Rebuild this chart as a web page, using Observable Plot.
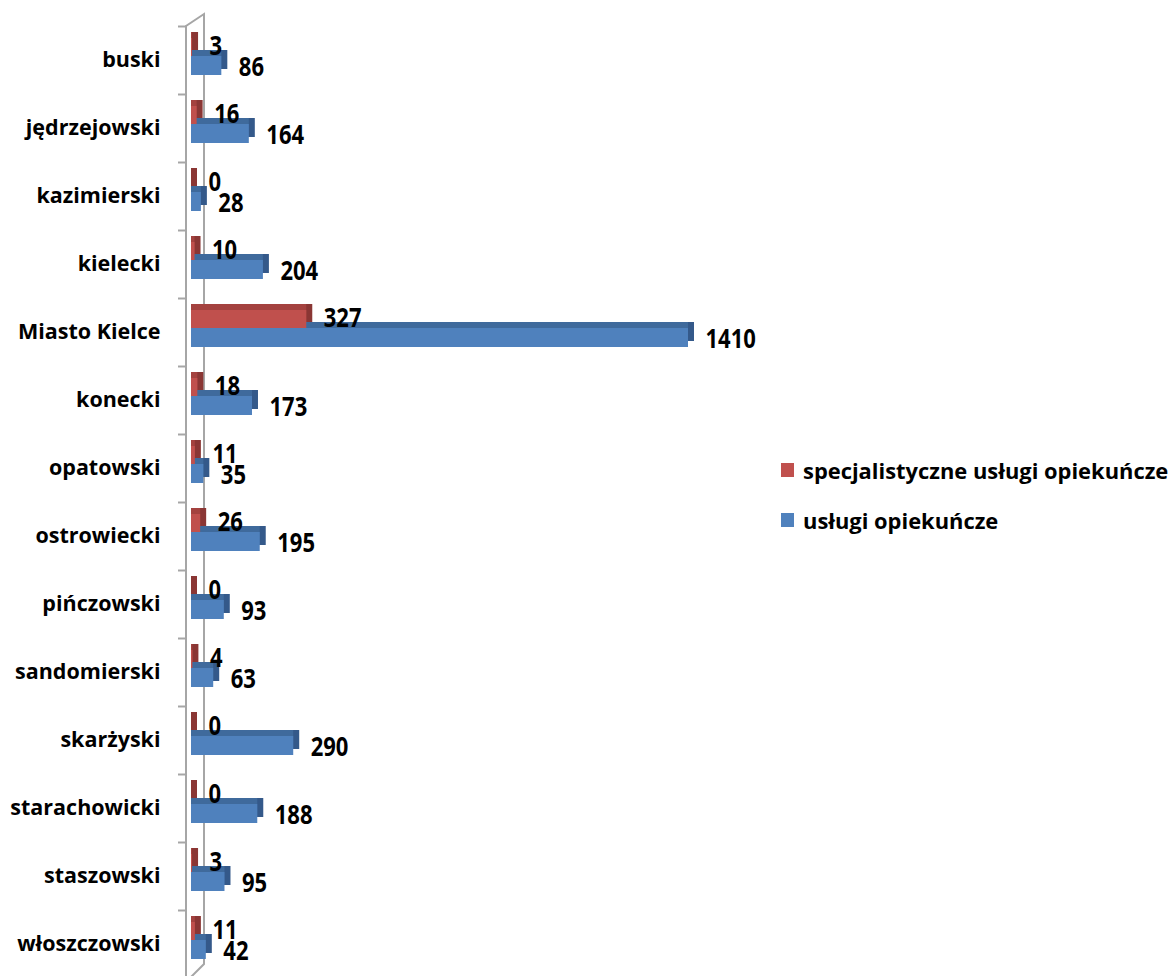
<!DOCTYPE html>
<html>
<head>
<meta charset="utf-8">
<script src="https://cdn.jsdelivr.net/npm/d3@7"></script>
<script src="https://cdn.jsdelivr.net/npm/@observablehq/plot@0.6"></script>
<style>
  html, body { margin: 0; padding: 0; background: #fff; }
  #wrap { position: relative; width: 1172px; height: 976px; overflow: hidden; }
  #legend { position: absolute; left: 781px; top: 456px; font-family: "Open Sans", sans-serif; font-weight: 700; font-size: 21.9px; color: #000; }
  .item { display: flex; align-items: center; height: 28px; margin-bottom: 22px; white-space: nowrap; }
  .sw { width: 13px; height: 14px; margin-right: 9px; flex: none; }
</style>
</head>
<body>
<div id="wrap"><div id="legend"></div></div>
<script>
const categories = ["buski","jędrzejowski","kazimierski","kielecki","Miasto Kielce","konecki","opatowski","ostrowiecki","pińczowski","sandomierski","skarżyski","starachowicki","staszowski","włoszczowski"];
const specjalistyczne = [3,16,0,10,327,18,11,26,0,4,0,0,3,11];
const uslugi = [86,164,28,204,1410,173,35,195,93,63,290,188,95,42];
const seriesNames = ["specjalistyczne usługi opiekuńcze","usługi opiekuńcze"];
const frontColors = ["#C0504D","#4F81BD"];
const topColors = ["#A4423F","#3F6A9C"];
const sideColors = ["#8A3634","#34598A"];

const red = categories.map((c, i) => ({cat: c, value: specjalistyczne[i]}));
const blue = categories.map((c, i) => ({cat: c, value: uslugi[i]}));

const D = 6; // depth of 3D effect
const wallColor = "#a6a6a6";

const wall = (index, scales, values, dims) => {
  const x0 = scales.x(0) - 5, x1 = scales.x(0) + 13;
  const top = dims.marginTop, bottom = dims.height - dims.marginBottom;
  const g = d3.create("svg:g").attr("fill", "none").attr("stroke", wallColor).attr("stroke-width", 2);
  g.append("path").attr("d", `M${x0},${bottom + 20}L${x0},${top}L${x1},${top - 12}L${x1},${bottom - 12}L${x0},${bottom + 6}`);
  return g.node();
};

const redRow = {insetTop: 12, insetBottom: 38};
const blueRow = {insetTop: 30, insetBottom: 19};
const valueFont = {fontFamily: "'Open Sans', sans-serif", fontSize: 27.5, fontWeight: 700, fill: "#000", textAnchor: "start", dx: 17};

const plot = Plot.plot({
  width: 1172,
  height: 976,
  marginLeft: 191,
  marginRight: 484,
  marginTop: 26,
  marginBottom: 0,
  x: {domain: [0, 1410], axis: null},
  y: {domain: categories, range: [26, 978], padding: 0, axis: null},
  style: {fontFamily: "'Open Sans', sans-serif", overflow: "visible", background: "transparent"},
  marks: [
    wall,
    Plot.axisY({tickFormat: () => "", tickSize: 8, dx: -5, dy: -34, stroke: wallColor, strokeWidth: 2, label: null}),
    Plot.axisY({tickSize: 0, tickPadding: 31, fontSize: 21.5, fontWeight: 700, fill: "#000", label: null}),
    // back layers (side then top faces)
    Plot.barX(blue, {x: "value", y: "cat", ...blueRow, dy: -D, insetRight: -D, fill: sideColors[1]}),
    Plot.barX(blue, {x: "value", y: "cat", ...blueRow, dy: -D, fill: topColors[1]}),
    Plot.barX(red, {x: "value", y: "cat", ...redRow, dy: -D, insetRight: -D, fill: sideColors[0]}),
    Plot.barX(red, {x: "value", y: "cat", ...redRow, dy: -D, fill: topColors[0]}),
    // front faces
    Plot.barX(red, {x: "value", y: "cat", ...redRow, fill: frontColors[0]}),
    Plot.barX(blue, {x: "value", y: "cat", ...blueRow, fill: frontColors[1]}),
    // value labels
    Plot.text(red, {x: "value", y: "cat", text: d => String(d.value), dy: -14, ...valueFont}),
    Plot.text(blue, {x: "value", y: "cat", text: d => String(d.value), dy: 7, ...valueFont})
  ]
});

// narrow the value labels horizontally (the reference font is condensed)
plot.querySelectorAll('g[aria-label="text"] text').forEach(el => {
  const t = el.getAttribute("transform");
  if (t && t.includes("translate")) {
    el.setAttribute("transform", t + " scale(0.8,1)");
  } else {
    const x = +el.getAttribute("x") || 0, y = +el.getAttribute("y") || 0;
    el.setAttribute("x", 0); el.setAttribute("y", 0);
    el.setAttribute("transform", `translate(${x},${y}) scale(0.8,1)`);
  }
});

const wrap = document.getElementById("wrap");
wrap.insertBefore(plot, wrap.firstChild);

const legend = document.getElementById("legend");
seriesNames.forEach((name, i) => {
  const item = document.createElement("div");
  item.className = "item";
  const sw = document.createElement("span");
  sw.className = "sw";
  sw.style.background = frontColors[i];
  const label = document.createElement("span");
  label.textContent = name;
  item.appendChild(sw);
  item.appendChild(label);
  legend.appendChild(item);
});
</script>
</body>
</html>
